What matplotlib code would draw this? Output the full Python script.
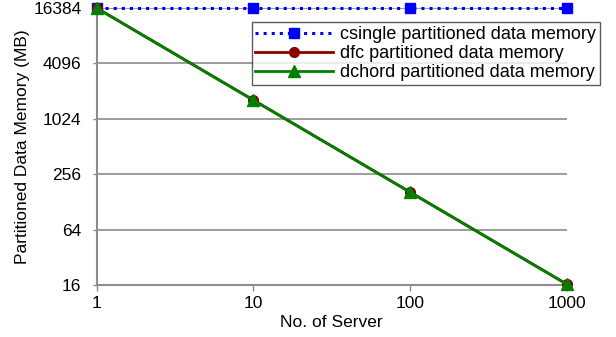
import matplotlib
matplotlib.use("Agg")
import matplotlib.pyplot as plt

# ── data ────────────────────────────────────────────────────────────────────
servers = [1, 10, 100, 1000]
csingle = [16384, 16384, 16384, 16384]
dfc = [16384, 1638.4, 163.84, 16.384]
dchord = [16384, 1638.4, 163.84, 16.384]
y_ticks = [16, 64, 256, 1024, 4096, 16384]

plt.rcParams["font.family"] = ["Liberation Sans", "DejaVu Sans"]

fig = plt.figure(figsize=(6.16, 3.37), dpi=100)
ax = fig.add_axes([0.157, 0.154, 0.763, 0.822])

grey = "#8c8c8c"
ax.plot(servers, csingle, color="blue", ls=":", lw=2.2, marker="s", ms=7,
        label="csingle partitioned data memory", clip_on=False, zorder=3)
ax.plot(servers, dfc, color="#8b0000", lw=2, marker="o", ms=7,
        label="dfc partitioned data memory", clip_on=False, zorder=4)
ax.plot(servers, dchord, color="green", lw=2, marker="^", ms=8,
        label="dchord partitioned data memory", clip_on=False, zorder=5)

ax.set_xscale("log")
ax.set_yscale("log", base=2)
ax.set_xlim(1, 1000)
ax.set_ylim(16, 16384)
ax.set_xticks(servers)
ax.set_xticklabels([str(s) for s in servers])
ax.set_yticks(y_ticks)
ax.set_yticklabels([str(v) for v in y_ticks])
ax.minorticks_off()

ax.yaxis.grid(True, color=grey, lw=1.2)
ax.set_axisbelow(True)
for side in ("top", "right"):
    ax.spines[side].set_visible(False)
for side in ("left", "bottom"):
    ax.spines[side].set_color(grey)
    ax.spines[side].set_linewidth(1.5)
ax.tick_params(axis="both", colors=grey, labelcolor="black", labelsize=12.5,
               length=4, width=1)
ax.tick_params(axis="y", length=3, pad=8)

ax.set_xlabel("No. of Server", fontsize=12.5, labelpad=3)
ax.set_ylabel("Partitioned Data Memory (MB)", fontsize=12.5, labelpad=2)

leg = ax.legend(loc="upper right", bbox_to_anchor=(1.07, 0.949),
                fontsize=13, frameon=True, fancybox=False,
                borderpad=0.2, labelspacing=0.12, handlelength=4.3,
                handletextpad=0.4, borderaxespad=0)
leg.get_frame().set_edgecolor("#333333")
leg.get_frame().set_linewidth(1)

fig.savefig("out.png", dpi=100)
